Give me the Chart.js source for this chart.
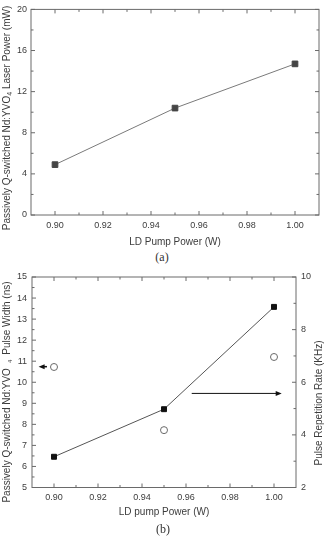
<!DOCTYPE html>
<html>
<head>
<meta charset="utf-8">
<script src="https://cdn.jsdelivr.net/npm/chart.js@4.4.1/dist/chart.umd.min.js"></script>
<style>
  body { margin: 0; background: #fff; width: 325px; height: 537px; overflow: hidden; position: relative; }
  canvas { position: absolute; left: 0; }
  .cap { position: absolute; width: 40px; text-align: center; font: 12px "Liberation Serif", serif; color: #333; }
</style>
</head>
<body>
<canvas id="chartA" width="325" height="250" style="top:0"></canvas>
<div class="cap" style="left:142px; top:250px">(a)</div>
<canvas id="chartB" width="325" height="272" style="top:265px"></canvas>
<div class="cap" style="left:143px; top:522px">(b)</div>
<script>
// data
const pumpA = [0.90, 0.95, 1.00];
const laserPower = [4.9, 10.4, 14.7];

const pumpB = [0.90, 0.95, 1.00];
const pulseWidth = [6.46, 8.72, 13.58];
const repRate = [6.58, 4.18, 6.96];

const xTicks = [0.90, 0.92, 0.94, 0.96, 0.98, 1.00];
const powerTicks = [0, 4, 8, 12, 16, 20];
const widthTicks = [5, 6, 7, 8, 9, 10, 11, 12, 13, 14, 15];
const rateTicks = [2, 4, 6, 8, 10];

const fontFam = '"Liberation Sans", Arial, sans-serif';
const textColor = '#3c3c3c';
const axisColor = '#6a6a6a';

// minor ticks sit half way between the labelled ones
const mids = function (arr) {
  let out = [];
  for (let i = 0; i < arr.length - 1; i++) out.push((arr[i] + arr[i + 1]) / 2);
  return out;
};

const originFrame = {
  id: 'originFrame',
  beforeDatasetsDraw(chart, args, o) {
    const ctx = chart.ctx, a = chart.chartArea;
    ctx.save();
    ctx.strokeStyle = axisColor;
    ctx.lineWidth = 1;
    ctx.strokeRect(a.left, a.top, a.right - a.left, a.bottom - a.top);
    (o.ticks || []).forEach(t => {
      const s = chart.scales[t.scale];
      const put = (v, len) => {
        const p = s.getPixelForValue(v);
        t.sides.forEach(side => {
          ctx.beginPath();
          if (side === 'bottom') { ctx.moveTo(p, a.bottom); ctx.lineTo(p, a.bottom - len); }
          if (side === 'top') { ctx.moveTo(p, a.top); ctx.lineTo(p, a.top + len); }
          if (side === 'left') { ctx.moveTo(a.left, p); ctx.lineTo(a.left + len, p); }
          if (side === 'right') { ctx.moveTo(a.right, p); ctx.lineTo(a.right - len, p); }
          ctx.stroke();
        });
      };
      t.majors.forEach(v => put(v, 4));
      t.minors.forEach(v => put(v, 2.5));
    });
    ctx.restore();
  },
  afterDatasetsDraw(chart, args, o) {
    const ctx = chart.ctx;
    (o.arrows || []).forEach(ar => {
      const sx = chart.scales.x, sy = chart.scales[ar.scale];
      const x1 = sx.getPixelForValue(ar.from[0]), y1 = sy.getPixelForValue(ar.from[1]);
      const x2 = sx.getPixelForValue(ar.to[0]), y2 = sy.getPixelForValue(ar.to[1]);
      const ang = Math.atan2(y2 - y1, x2 - x1);
      ctx.save();
      ctx.strokeStyle = '#111';
      ctx.fillStyle = '#111';
      ctx.lineWidth = ar.width;
      ctx.beginPath();
      ctx.moveTo(x1, y1);
      ctx.lineTo(x2 - 4 * Math.cos(ang), y2 - 4 * Math.sin(ang));
      ctx.stroke();
      ctx.translate(x2, y2);
      ctx.rotate(ang);
      ctx.beginPath();
      ctx.moveTo(0, 0);
      ctx.lineTo(-6, -2.5);
      ctx.lineTo(-6, 2.5);
      ctx.closePath();
      ctx.fill();
      ctx.restore();
    });
  },
  afterDraw(chart, args, o) {
    const ctx = chart.ctx;
    (o.titles || []).forEach(t => {
      ctx.save();
      ctx.translate(t.x, t.y);
      if (t.rotate) ctx.rotate(-Math.PI / 2);
      ctx.fillStyle = textColor;
      ctx.textBaseline = 'middle';
      ctx.textAlign = 'left';
      let total = 0;
      t.parts.forEach(p => {
        ctx.font = p.size + 'px ' + fontFam;
        p.w = ctx.measureText(p.text).width;
        total += p.w;
      });
      let cx = -total / 2;
      t.parts.forEach(p => {
        ctx.font = p.size + 'px ' + fontFam;
        ctx.fillText(p.text, cx, p.dy || 0);
        cx += p.w;
      });
      ctx.restore();
    });
  }
};

const tickFont = { family: fontFam, size: 9 };

const makeScale = function (min, max, ticks, fmt, size, padding, isX) {
  return {
    type: 'linear',
    min: min,
    max: max,
    afterBuildTicks: s => { s.ticks = ticks.map(v => ({ value: v })); },
    afterFit: s => { if (isX) s.height = size; else s.width = size; },
    grid: { display: false, drawTicks: false },
    border: { display: false },
    ticks: { autoSkip: false, maxRotation: 0, padding: padding, color: textColor, font: tickFont, callback: fmt }
  };
};

const showLaserPower = function () {
  new Chart(document.getElementById('chartA'), {
    type: 'scatter',
    data: {
      datasets: [{
        data: pumpA.map((x, i) => ({ x: x, y: laserPower[i] })),
        showLine: true,
        borderColor: '#7a7a7a',
        borderWidth: 1,
        pointStyle: 'rect',
        pointRadius: 4,
        pointBackgroundColor: '#454545',
        pointBorderColor: '#454545',
        pointBorderWidth: 1
      }]
    },
    options: {
      responsive: false,
      animation: false,
      layout: { padding: { top: 6, right: 6, left: 0, bottom: 0 } },
      plugins: {
        legend: { display: false },
        tooltip: { enabled: false },
        originFrame: {
          ticks: [
            { scale: 'x', majors: xTicks, minors: mids(xTicks), sides: ['bottom', 'top'] },
            { scale: 'y', majors: powerTicks, minors: mids(powerTicks), sides: ['left', 'right'] }
          ],
          titles: [
            { x: 175, y: 242, parts: [{ text: 'LD Pump Power (W)', size: 10 }] },
            { x: 7, y: 118, rotate: true, parts: [
              { text: 'Passively Q-switched Nd:YVO', size: 10 },
              { text: '4', size: 7, dy: 3 },
              { text: ' Laser Power (mW)', size: 10 }
            ] }
          ]
        }
      },
      scales: {
        x: makeScale(0.89, 1.01, xTicks, v => v.toFixed(2), 35, 5, true),
        y: makeScale(0, 20, powerTicks, v => v, 31, 4, false)
      }
    },
    plugins: [originFrame]
  });
};

const showPulseWidth = function () {
  new Chart(document.getElementById('chartB'), {
    type: 'scatter',
    data: {
      datasets: [{
        data: pumpB.map((x, i) => ({ x: x, y: pulseWidth[i] })),
        yAxisID: 'y',
        showLine: true,
        borderColor: '#555',
        borderWidth: 1,
        pointStyle: 'rect',
        pointRadius: 3.5,
        pointBackgroundColor: '#111',
        pointBorderColor: '#111',
        pointBorderWidth: 1
      }, {
        data: pumpB.map((x, i) => ({ x: x, y: repRate[i] })),
        yAxisID: 'y2',
        showLine: false,
        pointStyle: 'circle',
        pointRadius: 3.5,
        pointBackgroundColor: '#fff',
        pointBorderColor: '#6a6a6a',
        pointBorderWidth: 1
      }]
    },
    options: {
      responsive: false,
      animation: false,
      layout: { padding: { top: 12, right: 0, left: 0, bottom: 0 } },
      plugins: {
        legend: { display: false },
        tooltip: { enabled: false },
        originFrame: {
          ticks: [
            { scale: 'x', majors: xTicks, minors: mids(xTicks), sides: ['bottom', 'top'] },
            { scale: 'y', majors: widthTicks, minors: mids(widthTicks), sides: ['left'] },
            { scale: 'y2', majors: rateTicks, minors: mids(rateTicks), sides: ['right'] }
          ],
          arrows: [
            { scale: 'y', from: [0.8968, 10.74], to: [0.8930, 10.74], width: 1.5 },
            { scale: 'y', from: [0.9626, 9.47], to: [1.0035, 9.47], width: 1 }
          ],
          titles: [
            { x: 164, y: 247, parts: [{ text: 'LD pump Power (W)', size: 10 }] },
            { x: 7, y: 127, rotate: true, parts: [
              { text: 'Passively Q-switched Nd:YVO', size: 10 },
              { text: '   4   ', size: 6, dy: 3 },
              { text: 'Pulse Width (ns)', size: 10 }
            ] },
            { x: 319, y: 138, rotate: true, parts: [{ text: 'Pulse Repetition Rate (KHz)', size: 10 }] }
          ]
        }
      },
      scales: {
        x: makeScale(0.89, 1.01, xTicks, v => v.toFixed(2), 49.5, 5, true),
        y: Object.assign(makeScale(5, 15, widthTicks, v => v, 32, 5, false), { position: 'left' }),
        y2: Object.assign(makeScale(2, 10, rateTicks, v => v, 29, 5, false), { position: 'right' })
      }
    },
    plugins: [originFrame]
  });
};

showLaserPower();
showPulseWidth();
</script>
</body>
</html>
